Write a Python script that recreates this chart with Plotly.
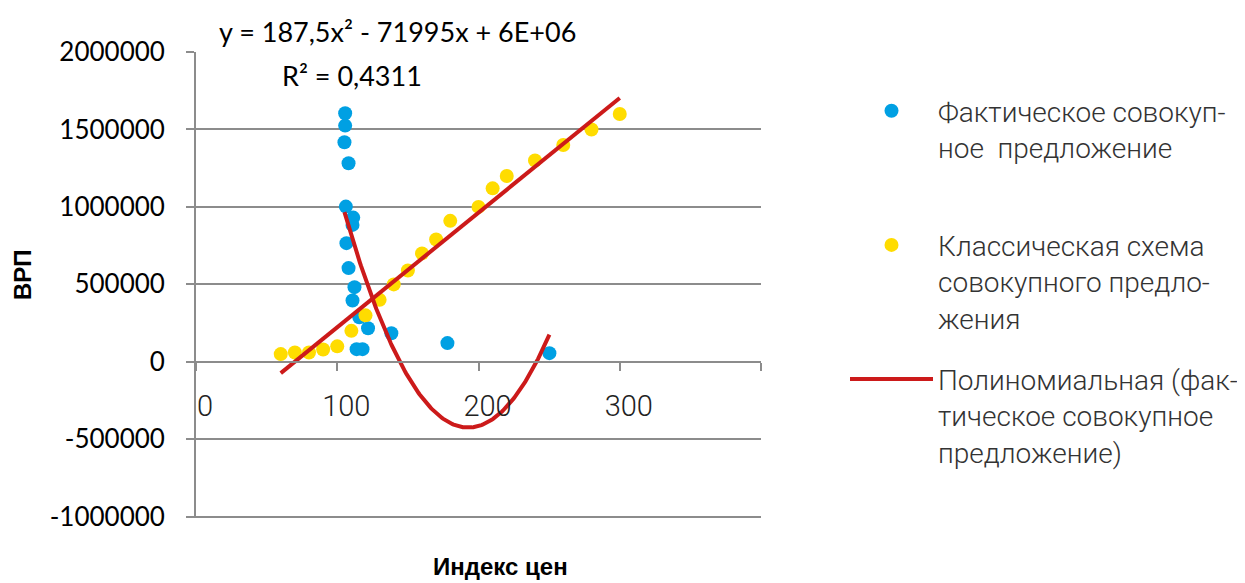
import numpy as np
import plotly.graph_objects as go

# ---- data ----
actual_name = "Фактическое совокуп-<br>ное  предложение<br> "
actual_x = [105.6, 105.6, 105.1, 108.0, 106.1, 111.3, 110.8, 106.5, 108.0,
            112.2, 110.8, 115.6, 121.8, 138.3, 113.7, 117.9, 178.0, 250.2]
actual_y = [1605000, 1525000, 1417000, 1282000, 1002000, 931000, 884000, 766000, 605000,
            482000, 396000, 288000, 217000, 185000, 82000, 82000, 121000, 56000]

classic_name = "Классическая схема<br>совокупного предло-<br>жения"
classic_x = [60, 70, 80, 90, 100, 110, 120, 130, 140, 150,
             160, 170, 180, 200, 210, 220, 240, 260, 280, 300]
classic_y = [50000, 60000, 60000, 80000, 100000, 200000, 300000, 400000, 500000, 590000,
             700000, 790000, 910000, 1000000, 1120000, 1200000, 1300000, 1400000, 1500000, 1600000]

poly_name = "Полиномиальная (фак-<br>тическое совокупное<br>предложение)"
equation_text = "y = 187,5x² - 71995x + 6E+06"
r2_text = "R² = 0,4311"

x_tickvals = [0, 100, 200, 300, 400]
x_ticktext = ["0", "100", "200", "300", ""]
y_tickvals = [-1000000, -500000, 0, 500000, 1000000, 1500000, 2000000]
y_ticktext = ["-1000000", "-500000", "0", "500000", "1000000", "1500000", "2000000"]
x_title = "Индекс цен"
y_title = "ВРП"

# ---- trendlines fitted from the data ----
poly_coef = np.polyfit(actual_x, actual_y, 2)
px_ = np.linspace(min(actual_x), max(actual_x), 200)
py_ = np.polyval(poly_coef, px_)

lin_coef = np.polyfit(classic_x, classic_y, 1)
lx_ = np.array([min(classic_x), max(classic_x)])
ly_ = np.polyval(lin_coef, lx_)

BLUE = "#00A0E3"
YELLOW = "#FFDC00"
RED = "#CC1A1A"
GRID = "#8C8C8C"

# page body has an 8px margin: figure coordinates = page coordinates - 8
OFF = 8
W, H = 1245 - OFF, 583 - OFF
L, R, T, B = 196 - OFF, 761 - OFF, 52 - OFF, 518 - OFF
Y_MIN, Y_MAX = -1008000, 2000000


def pxx(x):
    # x given in page pixels
    return (x - OFF - L) / (R - L)


def pxy(y):
    # y given in page pixels
    return (B - (y - OFF)) / (B - T)


fig = go.Figure()
fig.add_trace(go.Scatter(x=actual_x, y=actual_y, mode="markers", name=actual_name,
                         marker=dict(color=BLUE, size=14, line=dict(width=0)),
                         legendgroup="a"))
fig.add_trace(go.Scatter(x=classic_x, y=classic_y, mode="markers", name=classic_name,
                         marker=dict(color=YELLOW, size=14, line=dict(width=0)),
                         legendgroup="b"))
fig.add_trace(go.Scatter(x=lx_, y=ly_, mode="lines", showlegend=False,
                         line=dict(color=RED, width=4)))
fig.add_trace(go.Scatter(x=px_, y=py_, mode="lines", name=poly_name,
                         line=dict(color=RED, width=4), legendgroup="c"))

fig.update_layout(
    width=W, height=H,
    margin=dict(l=L, r=W - R, t=T, b=H - B, pad=0, autoexpand=False),
    plot_bgcolor="white", paper_bgcolor="white",
    showlegend=True,
    legend=dict(x=pxx(845), y=pxy(86), xanchor="left", yanchor="top",
                font=dict(family="Roboto", size=28, color="#333333", weight=300),
                valign="top", itemwidth=83, tracegroupgap=22,
                traceorder="grouped", bgcolor="rgba(0,0,0,0)"),
    xaxis=dict(range=[0, 400], tickvals=x_tickvals, ticktext=x_ticktext,
               automargin=False,
               showgrid=False, zeroline=False, showline=True, linecolor=GRID, linewidth=1.75,
               ticks="outside", ticklen=8, tickcolor=GRID, tickwidth=1.75,
               anchor="free", position=(0 - Y_MIN) / (Y_MAX - Y_MIN),
               ticklabelstandoff=10, ticklabelshift=9,
               tickfont=dict(family="Roboto", size=29, color="#222222", weight=300)),
    yaxis=dict(range=[Y_MIN, Y_MAX], tickvals=y_tickvals, ticktext=y_ticktext,
               automargin=False,
               showgrid=True, gridcolor=GRID, gridwidth=1.75, zeroline=False,
               showline=True, linecolor=GRID, linewidth=1.75,
               ticks="outside", ticklen=8, tickcolor=GRID, tickwidth=1.75,
               ticklabelstandoff=16,
               tickfont=dict(family="Lato", size=26, color="#000000")),
    annotations=[
        dict(text=equation_text, x=pxx(397.5), y=pxy(31), xref="paper", yref="paper",
             xanchor="center", yanchor="middle",
             showarrow=False, font=dict(family="Lato", size=27, color="#000000")),
        dict(text=r2_text, x=pxx(351.5), y=pxy(75), xref="paper", yref="paper",
             xanchor="center", yanchor="middle",
             showarrow=False, font=dict(family="Lato", size=27, color="#000000")),
        dict(text="<b>" + y_title + "</b>", x=pxx(22), y=pxy(275), xref="paper", yref="paper",
             xanchor="center", yanchor="middle",
             textangle=-90, showarrow=False,
             font=dict(family="Liberation Sans", size=24, color="#000000")),
        dict(text="<b>" + x_title + "</b>", x=pxx(500), y=pxy(566), xref="paper", yref="paper",
             xanchor="center", yanchor="middle",
             showarrow=False,
             font=dict(family="Liberation Sans", size=24, color="#000000")),
    ],
)

fig.write_html("out.html")
